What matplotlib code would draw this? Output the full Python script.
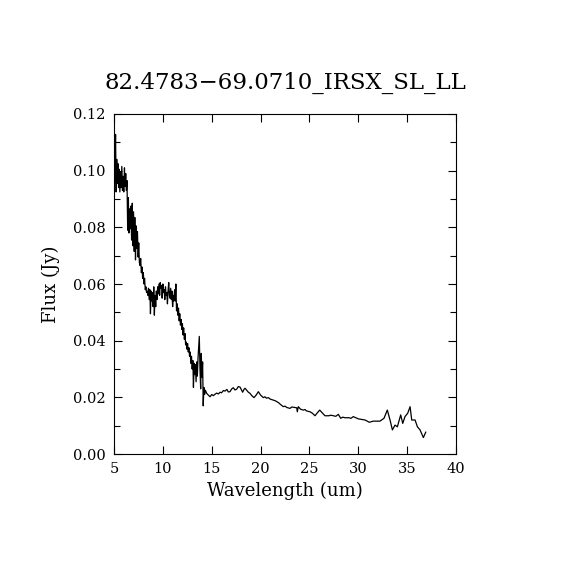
import numpy as np
import matplotlib.pyplot as plt
from matplotlib.ticker import MultipleLocator

# Спектр: короткая (SL) часть и длинная (LL) часть
sl_wave = [5.00, 5.08, 5.16, 5.22, 5.28, 5.34, 5.40, 5.47, 5.53, 5.60, 5.67,
           5.73, 5.80, 5.87, 5.93, 6.00, 6.07, 6.13, 6.20, 6.27, 6.33,
           6.40, 6.47, 6.53, 6.60, 6.67, 6.73, 6.80, 6.87, 6.93, 7.00, 7.07, 7.13,
           7.20, 7.27, 7.33, 7.40, 7.47, 7.53, 7.60, 7.67, 7.73, 7.80, 7.87, 7.93, 8.00,
           8.07, 8.13, 8.20, 8.27, 8.33, 8.40, 8.47, 8.53, 8.60, 8.67, 8.73, 8.80,
           8.87, 8.93, 9.00, 9.07, 9.13, 9.20, 9.27, 9.33, 9.40, 9.47, 9.53, 9.60,
           9.67, 9.73, 9.80, 9.87, 9.93, 10.00, 10.07, 10.13, 10.20, 10.27, 10.33,
           10.40, 10.47, 10.53, 10.60, 10.67, 10.73, 10.80, 10.87, 10.93, 11.00,
           11.07, 11.13, 11.20, 11.27, 11.33, 11.40, 11.47,
           11.53, 11.60, 11.67, 11.73, 11.80, 11.87, 11.93, 12.00, 12.07, 12.13,
           12.20, 12.27, 12.33, 12.40, 12.47, 12.53, 12.60, 12.67, 12.73, 12.80,
           12.87, 12.93, 13.00, 13.07, 13.13, 13.20, 13.27, 13.33, 13.40, 13.47,
           13.53, 13.60, 13.67, 13.73, 13.80, 13.87, 13.93, 14.00, 14.07, 14.13,
           14.20, 14.27]
sl_flux = [0.0905, 0.1000, 0.1128, 0.0925, 0.1040, 0.0955, 0.1025, 0.0940,
           0.1005, 0.0925, 0.0995, 0.0940, 0.1015, 0.0930, 0.0980, 0.0925, 0.1010,
           0.0945, 0.0990, 0.0930, 0.0965,
           0.0790, 0.0905, 0.0780, 0.0865, 0.0795, 0.0875, 0.0755, 0.0885, 0.0735,
           0.0855, 0.0715, 0.0835, 0.0685, 0.0805, 0.0725, 0.0785, 0.0695, 0.0745,
           0.0675, 0.0665, 0.0690, 0.0640, 0.0660, 0.0620, 0.0640,
           0.0600, 0.0620, 0.0580, 0.0590, 0.0570, 0.0575, 0.0560, 0.0585, 0.0545,
           0.0580, 0.0495, 0.0575, 0.0540, 0.0570, 0.0520, 0.0590, 0.0490, 0.0560,
           0.0520, 0.0575, 0.0545, 0.0590, 0.0565, 0.0600, 0.0560, 0.0605, 0.0585,
           0.0595, 0.0550, 0.0600, 0.0570, 0.0580, 0.0545, 0.0590, 0.0560, 0.0570,
           0.0530, 0.0575, 0.0605, 0.0560, 0.0550, 0.0585, 0.0545, 0.0575, 0.0520,
           0.0560, 0.0540, 0.0580, 0.0540, 0.0600, 0.0505, 0.0530,
           0.0490, 0.0515, 0.0470, 0.0495, 0.0455, 0.0475, 0.0440, 0.0460, 0.0420,
           0.0445, 0.0405, 0.0425, 0.0385, 0.0395, 0.0370, 0.0390, 0.0360, 0.0375,
           0.0345, 0.0360, 0.0320, 0.0345, 0.0300, 0.0330, 0.0235, 0.0320, 0.0280,
           0.0315, 0.0255, 0.0325, 0.0275, 0.0340, 0.0380, 0.0415, 0.0300, 0.0230,
           0.0355, 0.0270, 0.0325, 0.0170, 0.0235, 0.0210]

ll_wave = [14.35, 14.49, 14.65, 14.83, 15.00, 15.17, 15.34, 15.50, 15.68, 15.85,
           16.00, 16.20, 16.36, 16.55, 16.70, 16.87, 17.05, 17.21, 17.38, 17.56,
           17.72, 17.90, 18.05, 18.17, 18.30, 18.41, 18.60, 18.75, 18.92, 19.10,
           19.33, 19.55, 19.77, 20.00, 20.15, 20.28, 20.45, 20.60, 20.80, 20.97,
           21.15, 21.30, 21.50, 21.65, 21.85, 22.00, 22.15, 22.33, 22.50, 22.70,
           23.01, 23.20, 23.35, 23.70, 23.76, 23.86, 24.10, 24.37, 24.55, 24.70,
           25.06, 25.30, 25.57, 25.80, 26.05, 26.30, 26.59, 27.00, 27.20, 27.44,
           27.70, 27.96, 28.20, 28.40, 28.64, 29.05, 29.25, 29.49, 29.75, 30.00,
           30.35, 30.69, 31.13, 31.54, 31.90, 32.22, 32.63, 32.97, 33.25, 33.49,
           33.76, 34.00, 34.34, 34.55, 34.78, 35.06, 35.30, 35.47, 35.81, 36.05,
           36.32, 36.66, 36.90]
ll_flux = [0.0225, 0.0214, 0.0208, 0.0202, 0.0210, 0.0206, 0.0211, 0.0215, 0.0212,
           0.0218, 0.0216, 0.0224, 0.0222, 0.0228, 0.0219, 0.0220, 0.0230, 0.0234,
           0.0226, 0.0229, 0.0238, 0.0236, 0.0226, 0.0218, 0.0228, 0.0232, 0.0224,
           0.0218, 0.0214, 0.0206, 0.0199, 0.0208, 0.0220, 0.0208, 0.0203, 0.0199,
           0.0202, 0.0197, 0.0199, 0.0194, 0.0192, 0.0190, 0.0188, 0.0185, 0.0181,
           0.0176, 0.0172, 0.0167, 0.0169, 0.0164, 0.0161, 0.0166, 0.0165, 0.0163,
           0.0149, 0.0167, 0.0158, 0.0155, 0.0157, 0.0152, 0.0149, 0.0144, 0.0135,
           0.0145, 0.0155, 0.0146, 0.0135, 0.0135, 0.0137, 0.0135, 0.0133, 0.0140,
           0.0126, 0.0130, 0.0128, 0.0128, 0.0126, 0.0132, 0.0128, 0.0124, 0.0122,
           0.0120, 0.0112, 0.0116, 0.0116, 0.0116, 0.0126, 0.0155, 0.0120, 0.0085,
           0.0102, 0.0096, 0.0138, 0.0108, 0.0132, 0.0144, 0.0167, 0.0120, 0.0120,
           0.0096, 0.0085, 0.0058, 0.0077]

title = "82.4783\u221269.0710_IRSX_SL_LL"

plt.rcParams['font.family'] = 'DejaVu Serif'

fig = plt.figure(figsize=(5.7, 5.7), dpi=100)
ax = fig.add_axes([0.2, 0.2035, 0.6, 0.5965])

wave = np.array(sl_wave + ll_wave)
flux = np.array(sl_flux + ll_flux)
ax.plot(wave, flux, color='black', linewidth=0.9)

ax.set_xlim(5, 40)
ax.set_ylim(0, 0.12)
ax.xaxis.set_major_locator(MultipleLocator(5))
ax.yaxis.set_major_locator(MultipleLocator(0.02))
ax.yaxis.set_minor_locator(MultipleLocator(0.01))
ax.yaxis.set_major_formatter(plt.FormatStrFormatter('%.2f'))

ax.tick_params(which='both', direction='in', top=True, right=True,
               width=0.8, labelsize=10.5, pad=6)
ax.tick_params(which='major', length=6)
ax.tick_params(which='minor', length=4)
for s in ax.spines.values():
    s.set_linewidth(0.8)

ax.set_xlabel("Wavelength (um)", fontsize=13, labelpad=4)
ax.set_ylabel("Flux (Jy)", fontsize=13, labelpad=9)
ax.set_title(title, fontsize=16.5, pad=18)

fig.savefig("out.png", dpi=100)
